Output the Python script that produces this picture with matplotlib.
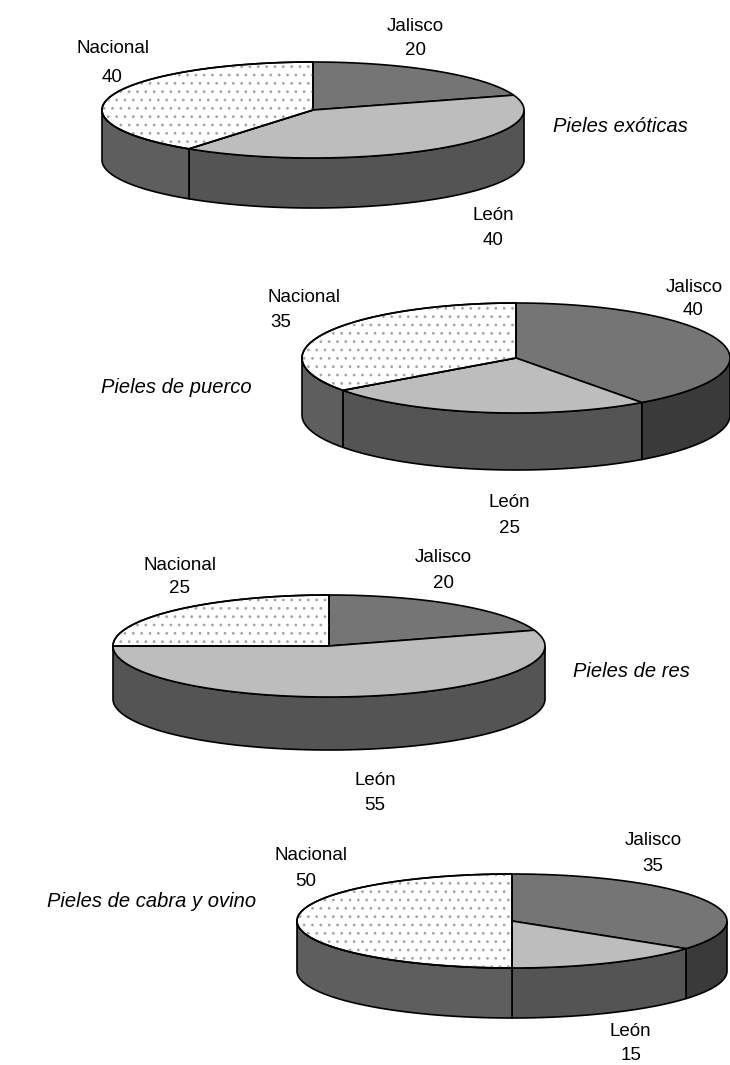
import numpy as np
import matplotlib
matplotlib.use("Agg")
import matplotlib.pyplot as plt
from matplotlib.patches import Polygon

# --- data -------------------------------------------------------------
regions = ["Jalisco", "León", "Nacional"]
titles = ["Pieles exóticas", "Pieles de puerco", "Pieles de res",
          "Pieles de cabra y ovino"]
exoticas = [20, 40, 40]
puerco = [40, 25, 35]
res = [20, 55, 25]
cabra_ovino = [35, 15, 50]

# --- styling ----------------------------------------------------------
top_colors = {"Jalisco": "#757575", "León": "#bdbdbd", "Nacional": "#ffffff"}
side_colors = {"Jalisco": "#3a3a3a", "León": "#545454", "Nacional": "#5e5e5e"}
FONT = ["Liberation Sans", "DejaVu Sans"]
LABEL_SIZE = 13.5
TITLE_SIZE = 14.5

# pie geometry in pixel units (y grows downward) and label anchors
# labels: region -> (name_x, name_baseline, value_x, value_baseline)
layout = [
    dict(values=exoticas, title=titles[0], cx=313, cy=110, rx=211, ry=48, depth=50,
         labels={"Jalisco": (415, 31, 415, 55), "León": (493, 220, 493, 245),
                 "Nacional": (113, 53, 112, 82)},
         title_pos=(553, 132, "left")),
    dict(values=puerco, title=titles[1], cx=516, cy=358, rx=214, ry=55, depth=57,
         labels={"Jalisco": (694, 292, 693, 315), "León": (509, 507, 510, 533),
                 "Nacional": (304, 302, 281, 327)},
         title_pos=(252, 393, "right")),
    dict(values=res, title=titles[2], cx=329, cy=646, rx=216, ry=51, depth=53,
         labels={"Jalisco": (443, 562, 444, 588), "León": (375, 785, 375, 810),
                 "Nacional": (180, 570, 179, 593)},
         title_pos=(573, 677, "left")),
    dict(values=cabra_ovino, title=titles[3], cx=512, cy=921, rx=215, ry=47, depth=50,
         labels={"Jalisco": (653, 845, 653, 871), "León": (630, 1036, 631, 1060),
                 "Nacional": (311, 860, 306, 886)},
         title_pos=(47, 907, "left")),
]

W, H = 730, 1065
fig = plt.figure(figsize=(W / 100, H / 100), dpi=100)
ax = fig.add_axes([0, 0, 1, 1])
ax.set_xlim(0, W)
ax.set_ylim(H, 0)
ax.axis("off")
plt.rcParams["hatch.linewidth"] = 0.8


def arc(p, a, b, dy=0.0):
    n = max(int(abs(a - b) / 1.5), 2)
    th = np.radians(np.linspace(a, b, n))
    x = p["cx"] + p["rx"] * np.cos(th)
    y = p["cy"] - p["ry"] * np.sin(th) + dy
    return np.column_stack([x, y])


for p in layout:
    vals = np.asarray(p["values"], dtype=float)
    sweep = 360.0 * vals / vals.sum()
    ends = 90.0 - np.cumsum(sweep)
    starts = ends + sweep

    # outer wall, only the front half (-180..0 deg) is visible
    for name, a, b in zip(regions, starts, ends):
        hi, lo = min(a, 0.0), max(b, -180.0)
        if hi > lo:
            top = arc(p, hi, lo)
            bot = arc(p, lo, hi, dy=p["depth"])
            ax.add_patch(Polygon(np.vstack([top, bot]), closed=True,
                                 fc=side_colors[name], ec="black", lw=1.2, zorder=1))

    # top face wedges
    for name, a, b in zip(regions, starts, ends):
        pts = np.vstack([[p["cx"], p["cy"]], arc(p, a, b)])
        ax.add_patch(Polygon(pts, closed=True, fc=top_colors[name],
                             ec="black", lw=1.2, zorder=2))
        if name == "Nacional":
            ax.add_patch(Polygon(pts, closed=True, fill=False, ec="#a5a5a5",
                                 lw=0, hatch="..", zorder=2.5))
            ax.add_patch(Polygon(pts, closed=True, fill=False, ec="black",
                                 lw=1.2, zorder=2.6))

    for name, v in zip(regions, p["values"]):
        nx, ny, vx, vy = p["labels"][name]
        ax.text(nx, ny, name, ha="center", va="baseline", family=FONT,
                fontsize=LABEL_SIZE, zorder=3)
        ax.text(vx, vy, f"{v}", ha="center", va="baseline", family=FONT,
                fontsize=LABEL_SIZE, zorder=3)

    tx, ty, tha = p["title_pos"]
    ax.text(tx, ty, p["title"], ha=tha, va="baseline", family=FONT,
            fontsize=TITLE_SIZE, style="italic", zorder=3)

fig.savefig("out.png", dpi=100, facecolor="white")
